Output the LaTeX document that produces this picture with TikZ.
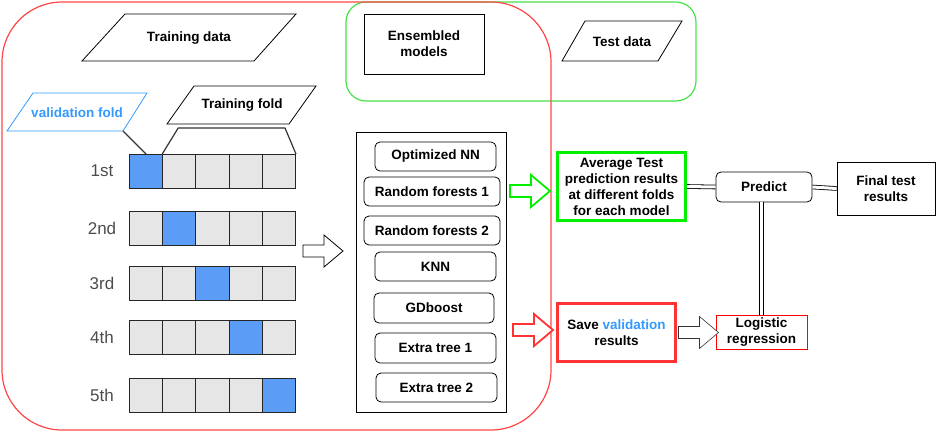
\documentclass[tikz,border=0pt]{standalone}
\usepackage{fontspec}
\setmainfont{Liberation Sans}
\usetikzlibrary{positioning}
\definecolor{foldblue}{RGB}{91,156,246}
\definecolor{foldgray}{RGB}{230,230,230}
\definecolor{textblue}{RGB}{51,153,255}
\definecolor{boxred}{RGB}{255,51,51}
\definecolor{boxgreen}{RGB}{0,240,0}
\definecolor{framegreen}{RGB}{70,225,70}
\definecolor{framered}{RGB}{255,70,70}
\tikzset{
  lbl/.style={font=\fontsize{13.5}{16}\selectfont\bfseries, align=center, inner sep=0},
  model/.style={lbl, draw, line width=0.8pt, rounded corners=5pt, minimum height=29pt},
  plain/.style={lbl, draw, line width=0.8pt},
  cell/.style={draw=black!85, line width=1pt, minimum width=33.2pt, minimum height=34pt, inner sep=0, anchor=north west},
  rowlbl/.style={font=\fontsize{17}{19}\selectfont, text=black!70},
  dbl/.style={double, double distance=3pt, line width=0.8pt},
  bigarrow/.pic={\draw[fill=white] (0,-6) -- (21,-6) -- (21,-16) -- (40,0) -- (21,16) -- (21,6) -- (0,6) -- cycle;}
}
\begin{document}
\begin{tikzpicture}[x=1pt, y=-1pt]
\useasboundingbox (0,0) rectangle (937,432);
% frames
\draw [framegreen, line width=1.2pt, rounded corners=20pt] (346,2) rectangle (696,101);
\draw [framered, line width=1.2pt, rounded corners=60pt] (2,2) rectangle (551,430);
% data
\draw [line width=0.8pt] (82,61) -- (125,14) -- (296,14) -- (254,61) -- cycle;
\node [lbl] (trdata) at (189,38) {Training data};
\draw [line width=0.8pt] (562,61) -- (585,21) -- (682,21) -- (658,61) -- cycle;
\node [lbl] (tedata) at (622,42) {Test data};
\node [plain, minimum width=120pt, minimum height=60pt] (ens) at (424,44) {Ensembled\\models};
% folds
\draw [textblue, line width=0.8pt] (7,131) -- (33,93) -- (147,93) -- (123,131) -- cycle;
\node [lbl, text=textblue] (valfold) at (77,113) {validation fold};
\coordinate (valcorner) at (123,131);
\draw [line width=0.8pt] (167,124) -- (194,86) -- (316,86) -- (289,124) -- cycle;
\node [lbl] (trfold) at (242,105) {Training fold};
\foreach \r/\y/\name in {1/154/1st, 2/211/2nd, 3/266/3rd, 4/320/4th, 5/378/5th}{
  \node [rowlbl] (l\r) at (102,\y+17) {\name};
  \foreach \c in {1,...,5}{
    \ifnum\c=\r \def\fc{foldblue}\else\def\fc{foldgray}\fi
    \node [cell, fill=\fc] (c\r\c) at ({129+33.2*(\c-1)},\y) {};
  }
}
\draw [black!80, line width=1.2pt] (valcorner) -- (c11.north);
\draw [black!80, line width=1.2pt] (c12.north west) -- ++(16,-26) -- (285,128) -- (c15.north east);
\pic [line width=0.8pt] at (303,251) {bigarrow};
% models
\draw [line width=0.8pt] (356,132) rectangle (506,412);
\node [model, minimum width=121pt] (optnn) at (435.5,156.5) {Optimized NN};
\node [model, minimum width=136pt] (rf1) at (432,191.5) {Random forests 1};
\node [model, minimum width=136pt] (rf2) at (432,230.5) {Random forests 2};
\node [model, minimum width=121pt] (knn) at (435.5,266.5) {KNN};
\node [model, minimum width=120pt, minimum height=30pt] (gdb) at (434,308) {GDboost};
\node [model, minimum width=121pt, minimum height=30pt] (et1) at (435.5,348) {Extra tree 1};
\node [model, minimum width=121pt] (et2) at (436.5,387.5) {Extra tree 2};
% results
\pic [boxgreen, line width=1.8pt] at (510,191) {bigarrow};
\pic [boxred, line width=1.8pt] at (513,330) {bigarrow};
\node [lbl, draw=boxgreen, line width=3pt, minimum width=128pt, minimum height=68pt] (avg) at (621.5,186.5) {Average Test\\prediction results\\at different folds\\for each model};
\node [lbl, draw=boxred, line width=3pt, minimum width=118pt, minimum height=58pt] (save) at (616.5,332.5) {Save \textcolor{textblue}{validation}\\results};
\node [model, minimum width=96pt, minimum height=30pt] (pred) at (764,187) {Predict};
\node [plain, minimum width=98pt, minimum height=53pt] (final) at (886,188.5) {Final test\\results};
\node [lbl, draw=red, line width=0.8pt, minimum width=91pt, minimum height=34pt] (logreg) at (761.5,332) {Logistic\\regression};
\pic [line width=0.6pt, black!80] at ([xshift=1.5pt]save.east) {bigarrow};
\draw [dbl] (avg.east) -- (pred.west);
\draw [dbl] (pred.east) -- (final.west);
\draw [dbl] (logreg.north |- pred.south) -- (logreg.north);
\end{tikzpicture}
\end{document}
